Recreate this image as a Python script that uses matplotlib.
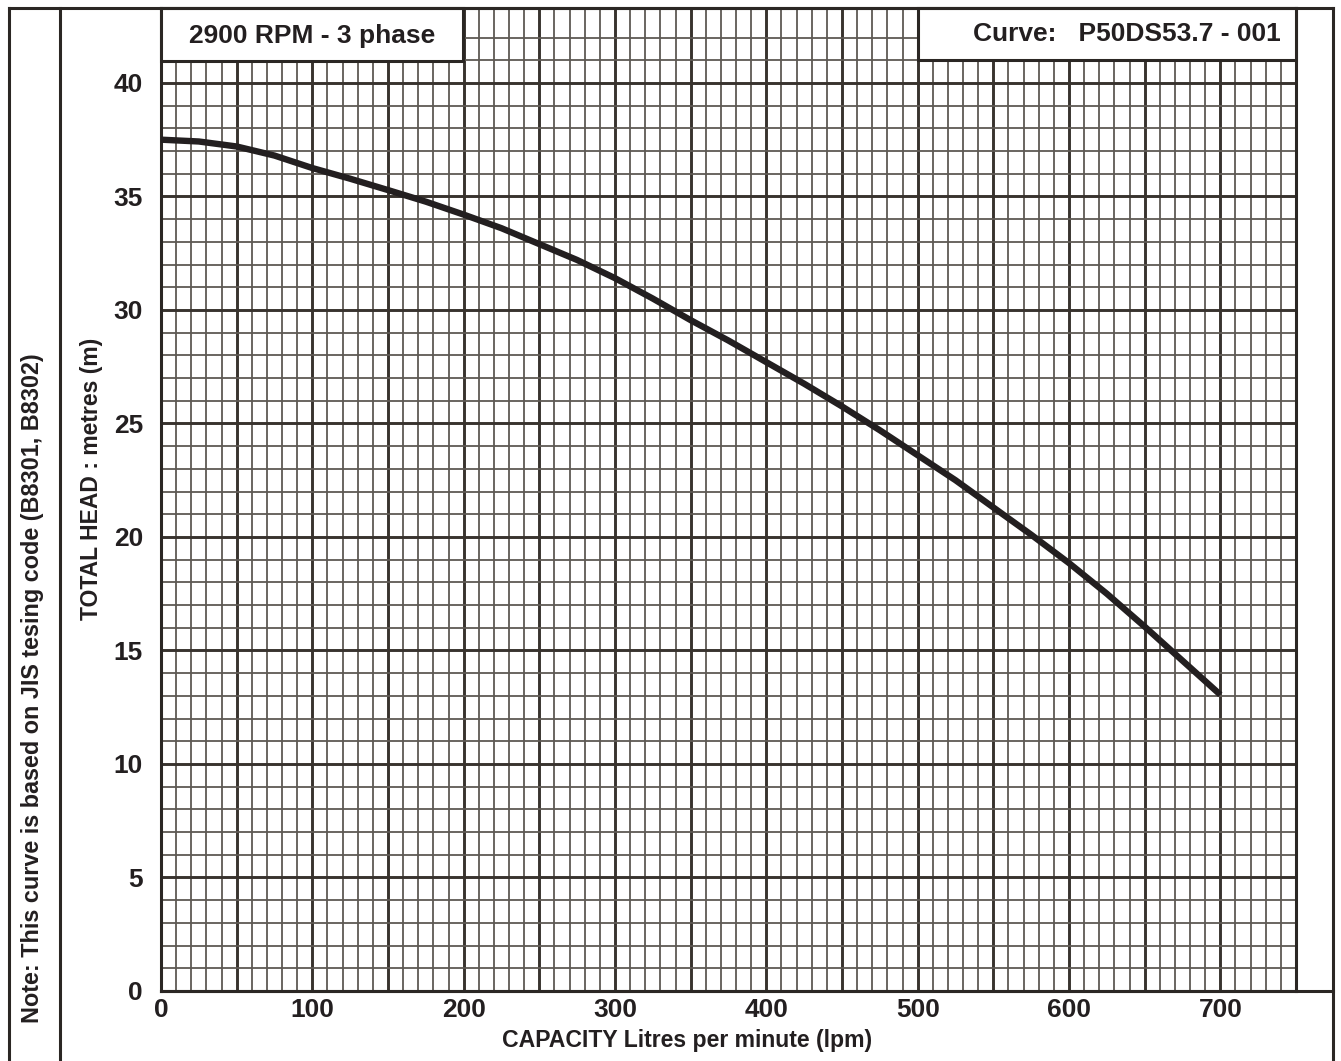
import numpy as np
import matplotlib.pyplot as plt
from matplotlib.patches import Rectangle
from matplotlib.lines import Line2D
from matplotlib.ticker import MultipleLocator, FixedLocator

# -----------------------------
# DATA
# -----------------------------
capacity = [0, 25, 50, 75, 100, 125, 150, 175, 200, 225, 250, 275, 300, 325,
            350, 375, 400, 425, 450, 475, 500, 525, 550, 575, 600, 625, 650,
            675, 700]
head = [37.5, 37.42, 37.2, 36.8, 36.25, 35.78, 35.28, 34.77, 34.2, 33.6, 32.9,
        32.2, 31.4, 30.5, 29.55, 28.65, 27.7, 26.75, 25.75, 24.7, 23.6, 22.5,
        21.3, 20.1, 18.85, 17.5, 16.05, 14.55, 13.05]

x_ticks = [0, 100, 200, 300, 400, 500, 600, 700]
y_ticks = [0, 5, 10, 15, 20, 25, 30, 35, 40]

rpm_label = "2900 RPM - 3 phase"
curve_label = "Curve:   P50DS53.7 - 001"
x_title = "CAPACITY Litres per minute (lpm)"
y_title = "TOTAL HEAD : metres (m)"
note = "Note: This curve is based on JIS tesing code (B8301, B8302)"

# -----------------------------
# FIGURE
# -----------------------------
W, H = 1341, 1061
ink = '#231f20'
frame = '#2b2724'
plt.rcParams['font.family'] = ['Liberation Sans', 'DejaVu Sans']
plt.rcParams['font.weight'] = 'bold'


def fx(px):
    return px / W


def fy(py):
    return 1 - py / H


fig = plt.figure(figsize=(W / 100, H / 100), dpi=100)
ax = fig.add_axes([fx(161), fy(991), fx(1296) - fx(161), fy(8) - fy(991)])

ax.plot(capacity, head, color=ink, lw=4.6, solid_capstyle='butt',
        solid_joinstyle='round', zorder=3)

ax.set_xlim(0, 750)
ax.set_ylim(0, 43.3)
ax.xaxis.set_major_locator(MultipleLocator(50))
ax.xaxis.set_minor_locator(MultipleLocator(10))
ax.yaxis.set_major_locator(FixedLocator(y_ticks))
ax.yaxis.set_minor_locator(FixedLocator([v for v in range(0, 43) if v % 5]))

ax.grid(which='major', color='#38332e', lw=2.1)
ax.grid(which='minor', color='#5e5954', lw=1.3)
ax.set_axisbelow(True)

# labels only every 100 lpm
ax.set_xticklabels([str(int(v)) if v in x_ticks else '' for v in ax.get_xticks()])
ax.set_yticklabels([str(v) for v in y_ticks])
ax.tick_params(which='both', length=0)
ax.tick_params(axis='y', pad=13, labelsize=19, labelcolor=ink)
ax.tick_params(axis='x', pad=5, labelsize=19, labelcolor=ink)
for s in ax.spines.values():
    s.set_linewidth(2.2)
    s.set_color(frame)

fig.text(fx(687), fy(1040), x_title, ha='center', va='center',
         fontsize=16.6, fontweight='bold', color=ink)
fig.text(fx(92), fy(479), y_title, ha='center', va='center', rotation=90,
         fontsize=16.5, fontweight='bold', color=ink)
fig.text(fx(33), fy(688), note, ha='center', va='center', rotation=90,
         fontsize=16.8, fontweight='bold', color=ink)

# outer frame
for xs, ys in [([9, 1333], [8, 8]), ([9, 9], [8, 1061]), ([60, 60], [8, 1061]),
               ([1333, 1333], [8, 1061]), ([161, 1333], [991, 991])]:
    fig.add_artist(Line2D([fx(v) for v in xs], [fy(v) for v in ys],
                          color=frame, lw=2.2, zorder=6))

# header boxes
fig.add_artist(Rectangle((fx(161), fy(61)), fx(463) - fx(161), fy(8) - fy(61),
                         facecolor='white', edgecolor=frame, lw=2.2, zorder=5))
fig.text(fx(312), fy(36), rpm_label, ha='center', va='center',
         fontsize=19, fontweight='bold', color=ink, zorder=7)
fig.add_artist(Rectangle((fx(918), fy(60)), fx(1296) - fx(918), fy(8) - fy(60),
                         facecolor='white', edgecolor=frame, lw=2.2, zorder=5))
fig.text(fx(1281), fy(34), curve_label, ha='right', va='center',
         fontsize=19, fontweight='bold', color=ink, zorder=7)

plt.savefig("out.png", dpi=100)
